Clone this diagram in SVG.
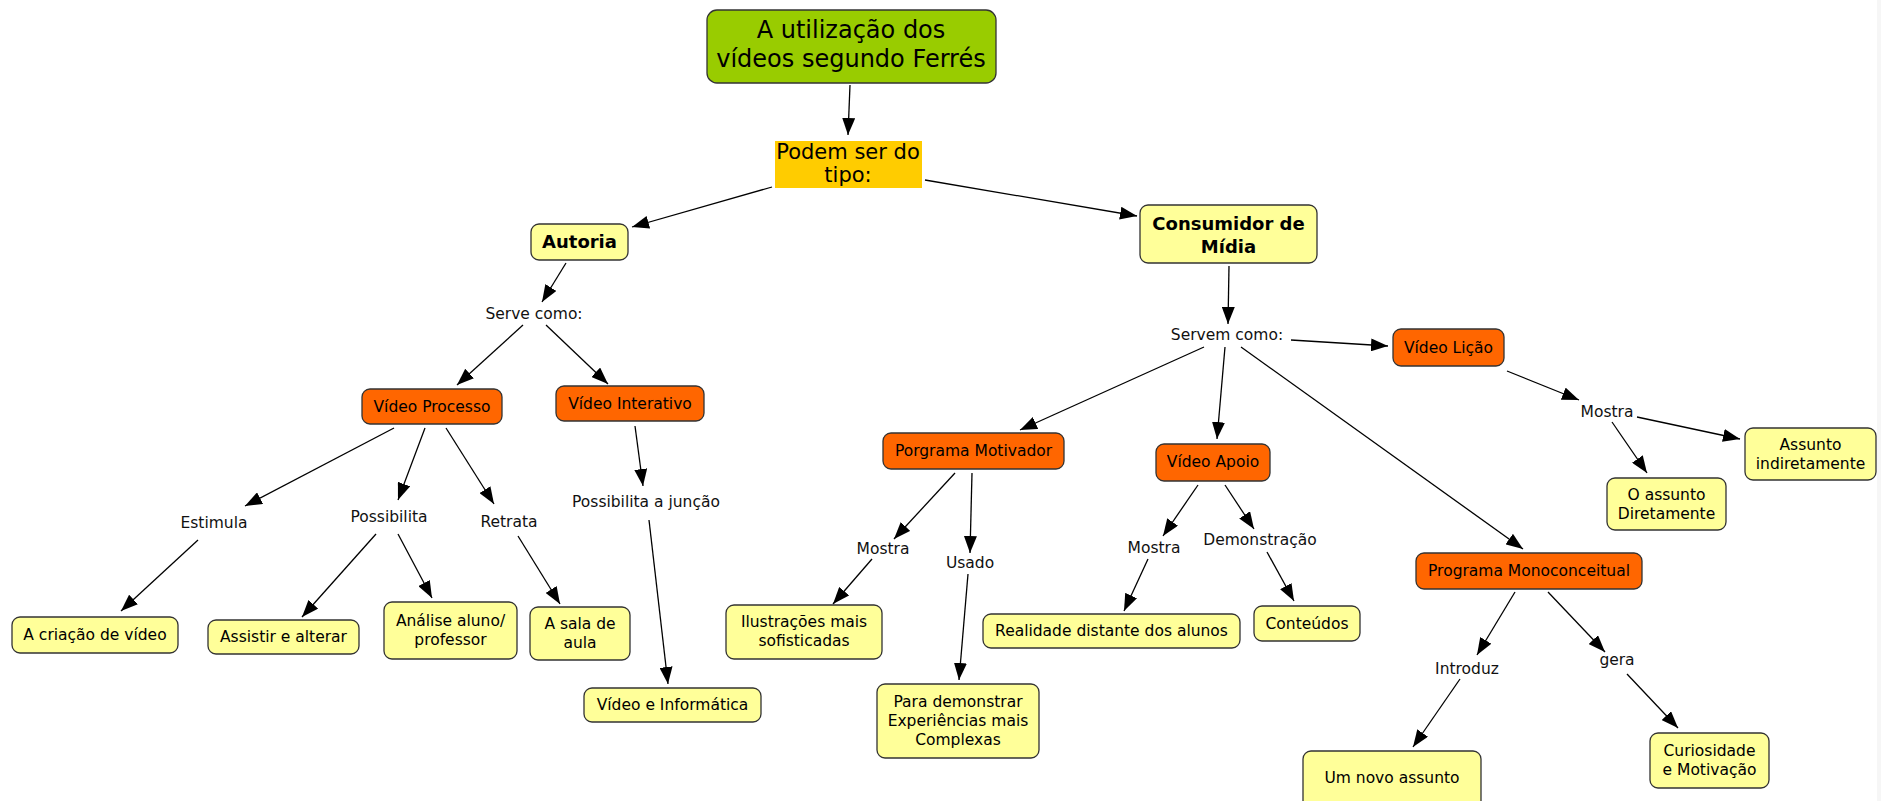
<svg xmlns="http://www.w3.org/2000/svg" width="1881" height="801" viewBox="0 0 1881 801">
<defs>
<marker id="ah" viewBox="0 0 17 13" refX="17" refY="6.5" markerWidth="17" markerHeight="13" markerUnits="userSpaceOnUse" orient="auto">
<path d="M0,0 L17,6.5 L0,13 z" fill="#000"/>
</marker>
<style>
text{font-family:"DejaVu Sans",Verdana,sans-serif;font-size:15.5px;fill:#000;text-anchor:middle}
.n rect{stroke:#333;stroke-width:1.3}
.y{fill:#ffff99}
.o{fill:#ff6600}
.b{font-weight:bold;font-size:18px}
.lk{fill:#111}
#connectors line{stroke:#000;stroke-width:1.3;marker-end:url(#ah)}
</style>
</defs>
<rect x="0" y="0" width="1881" height="801" fill="#fff"/>
<rect x="1877" y="0" width="4" height="801" fill="#f6f6f6"/>
<g id="connectors">
<line x1="850" y1="85" x2="848" y2="135"/>
<line x1="772" y1="187" x2="632" y2="227"/>
<line x1="925" y1="180" x2="1137" y2="216"/>
<line x1="566" y1="263" x2="542" y2="302"/>
<line x1="523" y1="325" x2="457" y2="385"/>
<line x1="546" y1="325" x2="608" y2="384"/>
<line x1="394" y1="428" x2="245" y2="506"/>
<line x1="425" y1="428" x2="398" y2="500"/>
<line x1="446" y1="428" x2="494" y2="504"/>
<line x1="198" y1="540" x2="121" y2="611"/>
<line x1="376" y1="534" x2="302" y2="617"/>
<line x1="398" y1="534" x2="432" y2="598"/>
<line x1="518" y1="536" x2="560" y2="604"/>
<line x1="635" y1="426" x2="643" y2="486"/>
<line x1="649" y1="520" x2="668" y2="684"/>
<line x1="1229" y1="266" x2="1228" y2="324"/>
<line x1="1291" y1="340" x2="1388" y2="346"/>
<line x1="1204" y1="347" x2="1020" y2="430"/>
<line x1="1225" y1="347" x2="1217" y2="439"/>
<line x1="1241" y1="347" x2="1523" y2="549"/>
<line x1="1507" y1="371" x2="1579" y2="400"/>
<line x1="1637" y1="417" x2="1740" y2="439"/>
<line x1="1612" y1="422" x2="1647" y2="473"/>
<line x1="1515" y1="592" x2="1477" y2="655"/>
<line x1="1548" y1="592" x2="1605" y2="652"/>
<line x1="1460" y1="679" x2="1413" y2="747"/>
<line x1="1627" y1="674" x2="1678" y2="728"/>
<line x1="955" y1="473" x2="894" y2="539"/>
<line x1="972" y1="473" x2="970" y2="553"/>
<line x1="872" y1="559" x2="833" y2="604"/>
<line x1="968" y1="574" x2="959" y2="680"/>
<line x1="1198" y1="485" x2="1163" y2="536"/>
<line x1="1225" y1="485" x2="1254" y2="529"/>
<line x1="1148" y1="559" x2="1124" y2="611"/>
<line x1="1267" y1="552" x2="1294" y2="601"/>
</g>
<g id="title" class="n"><rect x="707" y="10" width="289" height="73" rx="10" fill="#99cc00"/><text x="851" y="38" style="font-size:24px">A utilização dos</text><text x="851" y="67" style="font-size:24px">vídeos segundo Ferrés</text></g>
<g id="podem"><rect x="775" y="141" width="147" height="47" fill="#ffcc00"/><text x="848" y="159" style="font-size:21px">Podem ser do</text><text x="848" y="182" style="font-size:21px">tipo:</text></g>
<g id="autoria" class="n"><rect class="y" x="531" y="224" width="97" height="36" rx="8"/><text class="b" x="579.5" y="248">Autoria</text></g>
<g id="consumidor" class="n"><rect class="y" x="1140" y="205" width="177" height="58" rx="8"/><text class="b" x="1228.5" y="230">Consumidor de</text><text class="b" x="1228.5" y="253">Mídia</text></g>
<g id="serve-como"><text class="lk" x="534" y="319">Serve como:</text></g>
<g id="video-processo" class="n"><rect class="o" x="362" y="389" width="140" height="35" rx="8"/><text x="432" y="412">Vídeo Processo</text></g>
<g id="video-interativo" class="n"><rect class="o" x="556" y="386" width="148" height="35" rx="8"/><text x="630" y="409">Vídeo Interativo</text></g>
<g id="estimula"><text class="lk" x="214" y="528">Estimula</text></g>
<g id="possibilita"><text class="lk" x="389" y="522">Possibilita</text></g>
<g id="retrata"><text class="lk" x="509" y="527">Retrata</text></g>
<g id="criacao" class="n"><rect class="y" x="12" y="617" width="166" height="36" rx="8"/><text x="95" y="640">A criação de vídeo</text></g>
<g id="assistir" class="n"><rect class="y" x="208" y="620" width="151" height="34" rx="8"/><text x="283.5" y="642">Assistir e alterar</text></g>
<g id="analise" class="n"><rect class="y" x="384" y="602" width="133" height="57" rx="8"/><text x="450.5" y="626">Análise aluno/</text><text x="450.5" y="645">professor</text></g>
<g id="sala" class="n"><rect class="y" x="530" y="607" width="100" height="53" rx="8"/><text x="580" y="629">A sala de</text><text x="580" y="648">aula</text></g>
<g id="juncao"><text class="lk" x="646" y="507">Possibilita a junção</text></g>
<g id="video-informatica" class="n"><rect class="y" x="584" y="688" width="177" height="34" rx="8"/><text x="672.5" y="710">Vídeo e Informática</text></g>
<g id="servem-como"><text class="lk" x="1227" y="340">Servem como:</text></g>
<g id="video-licao" class="n"><rect class="o" x="1393" y="329" width="111" height="37" rx="8"/><text x="1448.5" y="353">Vídeo Lição</text></g>
<g id="motivador" class="n"><rect class="o" x="883" y="433" width="181" height="36" rx="8"/><text x="973.5" y="456">Porgrama Motivador</text></g>
<g id="video-apoio" class="n"><rect class="o" x="1156" y="444" width="114" height="37" rx="8"/><text x="1213" y="467">Vídeo Apoio</text></g>
<g id="monoconceitual" class="n"><rect class="o" x="1416" y="553" width="226" height="36" rx="8"/><text x="1529" y="576">Programa Monoconceitual</text></g>
<g id="mostra-licao"><text class="lk" x="1607" y="417">Mostra</text></g>
<g id="indiretamente" class="n"><rect class="y" x="1745" y="428" width="131" height="52" rx="8"/><text x="1810.5" y="450">Assunto</text><text x="1810.5" y="469">indiretamente</text></g>
<g id="diretamente" class="n"><rect class="y" x="1607" y="478" width="119" height="52" rx="8"/><text x="1666.5" y="500">O assunto</text><text x="1666.5" y="519">Diretamente</text></g>
<g id="introduz"><text class="lk" x="1467" y="674">Introduz</text></g>
<g id="gera"><text class="lk" x="1617" y="665">gera</text></g>
<g id="novo-assunto" class="n"><rect class="y" x="1303" y="751" width="178" height="60" rx="8"/><text x="1392" y="783">Um novo assunto</text></g>
<g id="curiosidade" class="n"><rect class="y" x="1650" y="733" width="119" height="55" rx="8"/><text x="1709.5" y="756">Curiosidade</text><text x="1709.5" y="775">e Motivação</text></g>
<g id="mostra-motivador"><text class="lk" x="883" y="554">Mostra</text></g>
<g id="usado"><text class="lk" x="970" y="568">Usado</text></g>
<g id="ilustracoes" class="n"><rect class="y" x="726" y="605" width="156" height="54" rx="8"/><text x="804" y="627">Ilustrações mais</text><text x="804" y="646">sofisticadas</text></g>
<g id="demonstrar" class="n"><rect class="y" x="877" y="684" width="162" height="74" rx="8"/><text x="958" y="707">Para demonstrar</text><text x="958" y="726">Experiências mais</text><text x="958" y="745">Complexas</text></g>
<g id="mostra-apoio"><text class="lk" x="1154" y="553">Mostra</text></g>
<g id="demonstracao"><text class="lk" x="1260" y="545">Demonstração</text></g>
<g id="realidade" class="n"><rect class="y" x="983" y="614" width="257" height="34" rx="8"/><text x="1111.5" y="636">Realidade distante dos alunos</text></g>
<g id="conteudos" class="n"><rect class="y" x="1254" y="606" width="106" height="35" rx="8"/><text x="1307" y="629">Conteúdos</text></g>
</svg>
